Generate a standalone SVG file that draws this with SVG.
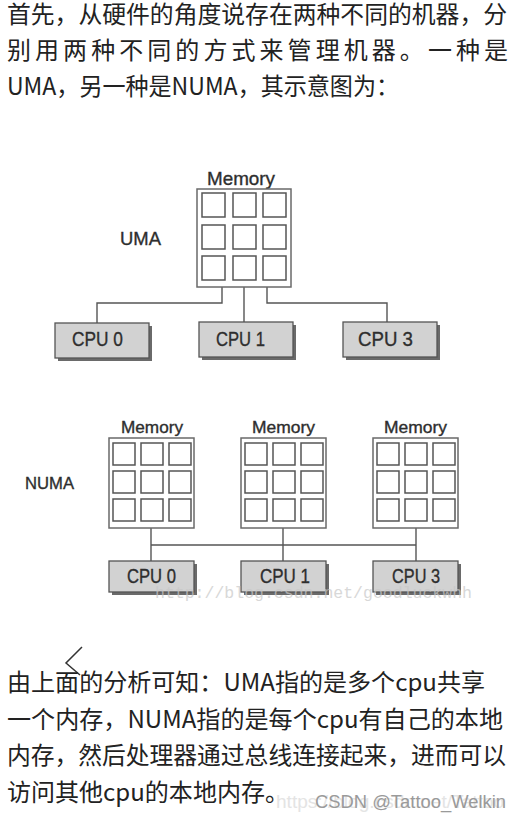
<svg xmlns="http://www.w3.org/2000/svg" xmlns:xlink="http://www.w3.org/1999/xlink" width="517" height="820" viewBox="0 0 517 820">
<style>
.cn{font-family:"Noto Sans CJK SC","Noto Sans",sans-serif;font-size:24px;fill:#222}
.lbl{font-family:"Liberation Sans Narrow","Liberation Sans",Arial,sans-serif;fill:#2e2e2e;stroke:#2e2e2e;stroke-width:0.35}
.box{fill:#fff;stroke:#6a6a6a;stroke-width:1.5}
.cell{fill:#fff;stroke:#555;stroke-width:1.5}
.cpu{fill:#d2d2d2;stroke:#555;stroke-width:1.3}
.shadow{fill:#6a6a6a}
.wire{fill:none;stroke:#555;stroke-width:1.4}
.wm{font-family:"Liberation Mono",monospace;font-size:16.5px;fill:#c8c8c8;opacity:0.7}
</style>
<defs>
<g id="numaGrid">
<rect class="cell" x="4" y="5" width="22" height="22"/>
<rect class="cell" x="32" y="5" width="22" height="22"/>
<rect class="cell" x="60" y="5" width="22" height="22"/>
<rect class="cell" x="4" y="33" width="22" height="22"/>
<rect class="cell" x="32" y="33" width="22" height="22"/>
<rect class="cell" x="60" y="33" width="22" height="22"/>
<rect class="cell" x="4" y="61" width="22" height="22"/>
<rect class="cell" x="32" y="61" width="22" height="22"/>
<rect class="cell" x="60" y="61" width="22" height="22"/>
</g>
</defs>
<rect width="517" height="820" fill="#fff"/>

<g id="intro-text">
<text class="cn" x="7" y="23" textLength="500" lengthAdjust="spacingAndGlyphs">首先，从硬件的角度说存在两种不同的机器，分</text>
<text class="cn" x="7" y="59" textLength="501" lengthAdjust="spacing">别用两种不同的方式来管理机器。一种是</text>
<text class="cn" x="7" y="95" textLength="392" lengthAdjust="spacingAndGlyphs">UMA，另一种是NUMA，其示意图为：</text>
</g>

<g id="connectors">
<polyline class="wire" points="222,287 222,303 97,303 97,323"/>
<line class="wire" x1="244" y1="287" x2="244" y2="322"/>
<polyline class="wire" points="267,287 267,303 387,303 387,322"/>
<line class="wire" x1="151" y1="528" x2="151" y2="561"/>
<line class="wire" x1="283" y1="528" x2="283" y2="561"/>
<line class="wire" x1="416" y1="528" x2="416" y2="561"/>
<line class="wire" x1="151" y1="545" x2="416" y2="545"/>
</g>

<g id="uma-label"><text class="lbl" x="120" y="245" font-size="19" textLength="41" lengthAdjust="spacingAndGlyphs">UMA</text></g>

<g id="uma-memory">
<text class="lbl" x="207" y="185" font-size="19" textLength="68" lengthAdjust="spacingAndGlyphs">Memory</text>
<rect class="box" x="197" y="189" width="94" height="98"/>
<rect class="cell" x="202" y="193" width="23" height="24"/>
<rect class="cell" x="233" y="193" width="23" height="24"/>
<rect class="cell" x="263" y="193" width="23" height="24"/>
<rect class="cell" x="202" y="225" width="23" height="24"/>
<rect class="cell" x="233" y="225" width="23" height="24"/>
<rect class="cell" x="263" y="225" width="23" height="24"/>
<rect class="cell" x="202" y="256" width="23" height="24"/>
<rect class="cell" x="233" y="256" width="23" height="24"/>
<rect class="cell" x="263" y="256" width="23" height="24"/>
</g>

<g id="uma-cpu0">
<rect class="shadow" x="58" y="326" width="94" height="35"/>
<rect class="cpu" x="55" y="323" width="94" height="35"/>
<text class="lbl" x="72" y="346" font-size="21" textLength="51" lengthAdjust="spacingAndGlyphs">CPU 0</text>
</g>
<g id="uma-cpu1">
<rect class="shadow" x="202" y="325" width="94" height="35"/>
<rect class="cpu" x="199" y="322" width="94" height="35"/>
<text class="lbl" x="216" y="346" font-size="21" textLength="49" lengthAdjust="spacingAndGlyphs">CPU 1</text>
</g>
<g id="uma-cpu3">
<rect class="shadow" x="346" y="325" width="94" height="35"/>
<rect class="cpu" x="343" y="322" width="94" height="35"/>
<text class="lbl" x="358" y="346" font-size="21" textLength="55" lengthAdjust="spacingAndGlyphs">CPU 3</text>
</g>

<g id="numa-label"><text class="lbl" x="25" y="489" font-size="17" textLength="49" lengthAdjust="spacingAndGlyphs">NUMA</text></g>

<g id="numa-memory0">
<text class="lbl" x="121" y="433" font-size="17" textLength="62" lengthAdjust="spacingAndGlyphs">Memory</text>
<rect class="box" x="109" y="438" width="85" height="90"/>
<use xlink:href="#numaGrid" x="109" y="438"/>
</g>
<g id="numa-memory1">
<text class="lbl" x="252" y="433" font-size="17" textLength="63" lengthAdjust="spacingAndGlyphs">Memory</text>
<rect class="box" x="241" y="438" width="85" height="90"/>
<use xlink:href="#numaGrid" x="241" y="438"/>
</g>
<g id="numa-memory3">
<text class="lbl" x="384" y="433" font-size="17" textLength="63" lengthAdjust="spacingAndGlyphs">Memory</text>
<rect class="box" x="373" y="438" width="85" height="90"/>
<use xlink:href="#numaGrid" x="373" y="438"/>
</g>

<g id="numa-cpu0">
<rect class="shadow" x="112" y="564" width="85" height="31"/>
<rect class="cpu" x="109" y="561" width="85" height="31"/>
<text class="lbl" x="127" y="583" font-size="20" textLength="49" lengthAdjust="spacingAndGlyphs">CPU 0</text>
</g>
<g id="numa-cpu1">
<rect class="shadow" x="244" y="564" width="85" height="31"/>
<rect class="cpu" x="241" y="561" width="85" height="31"/>
<text class="lbl" x="260" y="583" font-size="20" textLength="50" lengthAdjust="spacingAndGlyphs">CPU 1</text>
</g>
<g id="numa-cpu3">
<rect class="shadow" x="376" y="564" width="85" height="31"/>
<rect class="cpu" x="373" y="561" width="85" height="31"/>
<text class="lbl" x="392" y="583" font-size="20" textLength="48" lengthAdjust="spacingAndGlyphs">CPU 3</text>
</g>

<text class="wm" x="155" y="598" textLength="317" lengthAdjust="spacingAndGlyphs">http://blog.csdn.net/goodluckwhh</text>

<polyline points="82,647 66,663 80,675" fill="none" stroke="#333" stroke-width="1.5"/>

<g id="summary-text">
<text class="cn" x="7" y="691" textLength="478" lengthAdjust="spacingAndGlyphs">由上面的分析可知：UMA指的是多个cpu共享</text>
<text class="cn" x="7" y="728" textLength="496" lengthAdjust="spacingAndGlyphs">一个内存，NUMA指的是每个cpu有自己的本地</text>
<text class="cn" x="7" y="764" textLength="499" lengthAdjust="spacingAndGlyphs">内存，然后处理器通过总线连接起来，进而可以</text>
<text class="cn" x="7" y="801" textLength="282" lengthAdjust="spacingAndGlyphs">访问其他cpu的本地内存。</text>
</g>

<text x="276" y="808" font-family="Liberation Sans,Arial,sans-serif" font-size="18" fill="#e4e4e4" textLength="228" lengthAdjust="spacingAndGlyphs">https://blog.csdn.net/Tattoo</text>
<text x="315" y="808" font-family="Liberation Sans,Arial,sans-serif" font-size="18" fill="#9a9a9a" textLength="191" lengthAdjust="spacingAndGlyphs">CSDN @Tattoo_Welkin</text>
</svg>
